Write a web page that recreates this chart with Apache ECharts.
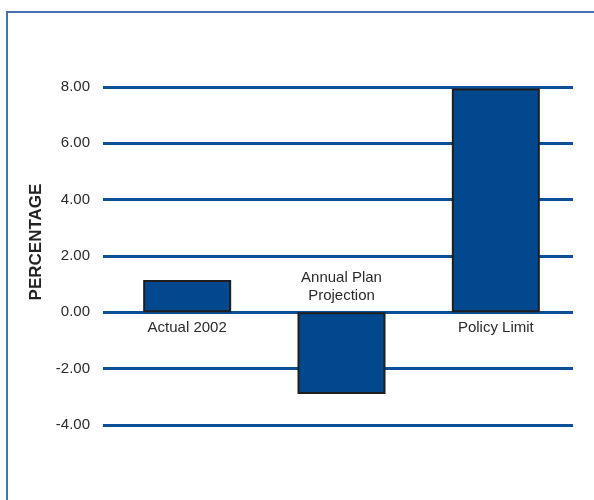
<!DOCTYPE html>
<html>
<head>
<meta charset="utf-8">
<script src="https://cdn.jsdelivr.net/npm/echarts@6/dist/echarts.min.js"></script>
<style>
html,body{margin:0;padding:0;background:#fff;width:594px;height:500px;overflow:hidden;}
#frame{position:absolute;left:6px;top:11px;width:700px;height:600px;border-left:2px solid #4174b0;border-top:2px solid #4174b0;box-sizing:border-box;}
#chart{position:absolute;left:0;top:0;width:594px;height:500px;}
</style>
</head>
<body>
<div id="frame"></div>
<div id="chart"></div>
<script>
const categories = ["Actual 2002", "Annual Plan\nProjection", "Policy Limit"];
const values = [1.15, -2.9, 7.95];
const yTicks = { min: -4, max: 8, interval: 2 };
const yAxisName = "PERCENTAGE";

const font = "'Liberation Sans', Arial, sans-serif";
const chart = echarts.init(document.getElementById('chart'));
chart.setOption({
  animation: false,
  grid: [
    { left: 103, right: 21, top: 87, bottom: 75 },
    { left: 110, right: 21, top: 87, bottom: 75 }
  ],
  xAxis: [
    { gridIndex: 0, type: 'category', data: categories, show: false },
    { gridIndex: 1, type: 'category', data: categories, axisLine: { show: false }, axisTick: { show: false }, axisLabel: { show: false } }
  ],
  yAxis: [
    {
      gridIndex: 0,
      type: 'value',
      min: yTicks.min, max: yTicks.max, interval: yTicks.interval,
      name: yAxisName,
      nameLocation: 'middle',
      nameGap: 52,
      nameTextStyle: { fontFamily: font, fontWeight: 'bold', fontSize: 17, color: '#222', padding: [0, 0, 0, 28] },
      axisLine: { show: false },
      axisTick: { show: false },
      axisLabel: { fontFamily: font, fontSize: 15, color: '#2a2a2a', margin: 13, formatter: v => v.toFixed(2) },
      splitLine: { lineStyle: { color: '#0b4f98', width: 3 } }
    },
    {
      gridIndex: 1,
      type: 'value',
      min: yTicks.min, max: yTicks.max, interval: yTicks.interval,
      show: false
    }
  ],
  series: [{
    type: 'bar',
    xAxisIndex: 1,
    yAxisIndex: 1,
    barWidth: 88,
    data: values.map((v, i) => ({
      value: v,
      label: {
        show: true,
        position: v >= 0 ? 'bottom' : 'top',
        distance: 7,
        formatter: () => categories[i],
        fontFamily: font,
        fontSize: 15,
        lineHeight: 18,
        color: '#2a2a2a'
      }
    })),
    itemStyle: { color: '#01488f', borderColor: '#1e1e1e', borderWidth: 2 }
  }]
});
</script>
</body>
</html>
